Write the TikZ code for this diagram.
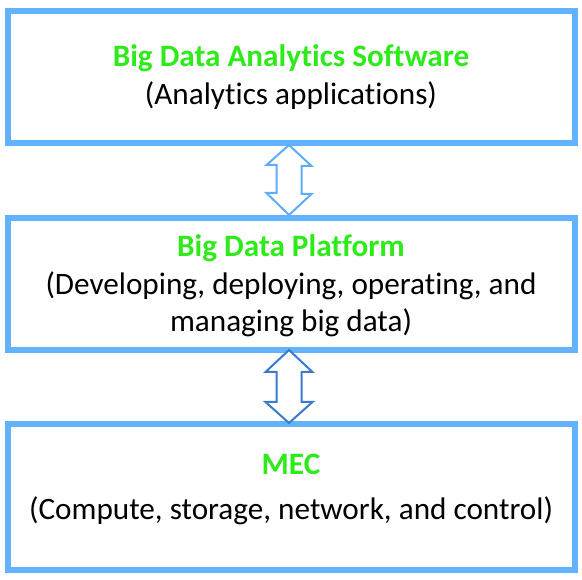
\documentclass[tikz,border=0pt]{standalone}
\usepackage{fontspec}
\setmainfont{Carlito}[Ligatures={NoCommon,NoRequired}]
\definecolor{boxblue}{RGB}{99,178,255}
\definecolor{arrowlight}{RGB}{95,172,250}
\definecolor{arrowdark}{RGB}{58,122,204}
\definecolor{titlegreen}{RGB}{45,235,25}
\begin{document}
\begin{tikzpicture}[x=1pt,y=-1pt,
  layerbox/.style={draw=boxblue,line width=6pt,fill=white,inner sep=0pt,outer sep=0pt},
  titletext/.style={anchor=base,inner sep=0pt,font=\fontsize{31.2}{37}\selectfont\bfseries,text=titlegreen},
  bodytext/.style={anchor=base,inner sep=0pt,font=\fontsize{31.2}{37}\selectfont,text=black},
  dblarrow/.style={line width=2pt,fill=white,line join=miter}]
\useasboundingbox (0,0) rectangle (582,580);
% boxes
\node[layerbox,minimum width=567pt,minimum height=132pt] (b1) at (291.5,77) {};
\node[layerbox,minimum width=567pt,minimum height=132pt] (b2) at (291.5,284) {};
\node[layerbox,minimum width=567pt,minimum height=146pt] (b3) at (291.5,497) {};
% texts
\node[titletext] (t1) at (291,67) {Big Data Analytics Software};
\node[bodytext] (s1) at (291,105) {(Analytics applications)};
\node[titletext] (t2) at (291,257) {Big Data Platform};
\node[bodytext] (s2) at (291,295) {(Developing, deploying, operating, and};
\node[bodytext] (s3) at (291,332) {managing big data)};
\node[titletext] (t3) at (291,475) {MEC};
\node[bodytext] (s4) at (291,520) {(Compute, storage, network, and control)};
% arrows
\coordinate (a1top) at (289,145);
\coordinate (a1bot) at (289,215);
\draw[dblarrow,draw=arrowlight] (a1top) -- ++(22.5,21) -- ++(-10,0) -- ++(0,28) -- ++(10,0) -- (a1bot)
  -- ++(-22.5,-22) -- ++(10,0) -- ++(0,-28) -- ++(-10,0) -- cycle;
\coordinate (a2top) at (289,350);
\coordinate (a2bot) at (289,423);
\draw[dblarrow,draw=arrowdark] (a2top) -- ++(23.5,22) -- ++(-11,0) -- ++(0,30) -- ++(11,0) -- (a2bot)
  -- ++(-23.5,-21) -- ++(11,0) -- ++(0,-30) -- ++(-11,0) -- cycle;
\end{tikzpicture}
\end{document}
